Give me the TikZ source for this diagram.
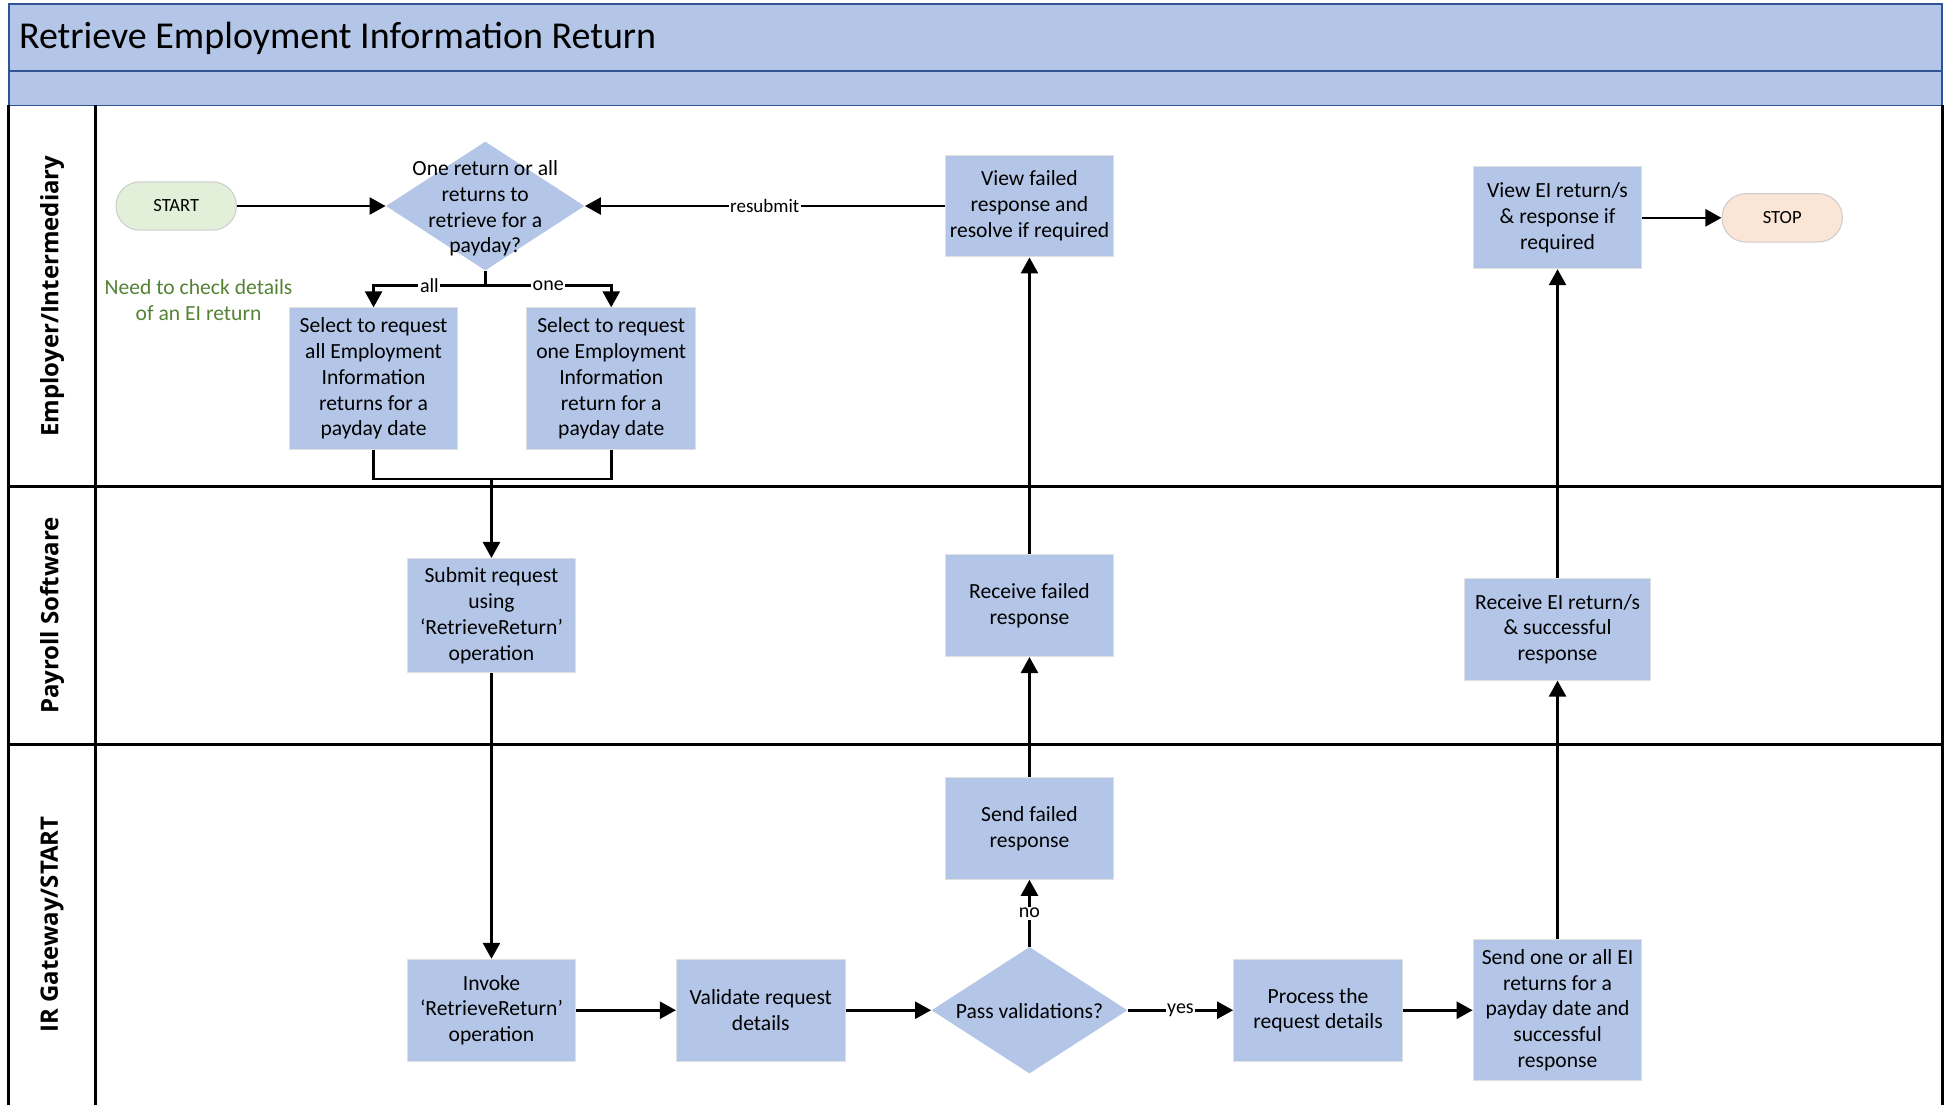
\documentclass[tikz,border=0pt]{standalone}
\usepackage{fontspec}
\setmainfont{Carlito}
\newfontfamily\lanefont{Open Sans}
\usetikzlibrary{shapes.geometric,arrows.meta}
\definecolor{boxblue}{HTML}{B4C6E7}
\definecolor{bandline}{HTML}{2F5597}
\definecolor{startgreen}{HTML}{E2F0D9}
\definecolor{stoporange}{HTML}{FBE5D6}
\definecolor{notegreen}{HTML}{548235}
\begin{document}
\begin{tikzpicture}[x=0.6205pt,y=-0.6205pt,
  proc/.style={rectangle, fill=boxblue, draw=black!12, line width=0.5pt, align=center,
    font=\fontsize{10.8}{12.9}\selectfont, inner sep=1pt, minimum width=84.4pt, minimum height=50.9pt},
  decision/.style={diamond, fill=boxblue, draw=none, inner sep=0pt},
  dtext/.style={align=center, font=\fontsize{10.8}{12.9}\selectfont, inner sep=0pt},
  term/.style={rectangle, rounded corners=12pt, draw=black!20, line width=0.5pt,
    minimum width=60.2pt, minimum height=24.2pt, font=\fontsize{9.3}{11}\selectfont},
  note/.style={align=center, text=notegreen, font=\fontsize{10.8}{12.9}\selectfont},
  lane/.style={rotate=90, font=\lanefont\bfseries\fontsize{12}{14}\selectfont},
  arr/.style={-{Triangle[length=8pt,width=8.5pt]}, line width=1.3pt},
  conn/.style={line width=1.3pt},
  lab/.style={fill=white, inner sep=0.8pt, font=\fontsize{10}{12}\selectfont},
  laneline/.style={line width=1.3pt, black}
]
\useasboundingbox (0,0) rectangle (1568,890);
\clip (0,0) rectangle (1568,890);
% header bands
\draw[fill=boxblue, draw=bandline, line width=0.9pt] (7,3) rectangle (1565,57);
\draw[fill=boxblue, draw=bandline, line width=0.9pt] (7,57) rectangle (1565,85);
\node[anchor=west, font=\fontsize{19}{22}\selectfont, inner sep=0pt] (title) at (15,31) {Retrieve Employment Information Return};
% lanes
\draw[laneline] (7,85) -- (7,900);
\draw[laneline] (1565,85) -- (1565,900);
\draw[laneline] (77,85) -- (77,900);
\draw[laneline] (7,392) -- (1565,392);
\draw[laneline] (7,600) -- (1565,600);
\node[lane] (lane1) at (42,238.5) {Employer/Intermediary};
\node[lane] (lane2) at (42,496) {Payroll Software};
\node[lane] (lane3) at (42,745) {IR Gateway/START};
% nodes
\node[term, fill=startgreen] (start) at (142,166) {START};
\node[decision, minimum width=99.3pt, minimum height=64.5pt] (d1) at (391,166) {};
\node[dtext] (d1t) at (391,168) {One return or all\\returns to\\retrieve for a\\payday?};
\node[note] (note) at (160,241.5) {Need to check details\\of an EI return};
\node[proc, minimum height=70.7pt] (selall) at (301,305) {Select to request\\all Employment\\Information\\returns for a\\payday date};
\node[proc, minimum height=70.7pt] (selone) at (492.5,305) {Select to request\\one Employment\\Information\\return for a\\payday date};
\node[proc, minimum height=57.1pt] (submit) at (396,496) {Submit request\\using\\‘RetrieveReturn’\\operation};
\node[proc] (invoke) at (396,814) {Invoke\\‘RetrieveReturn’\\operation};
\node[proc] (validate) at (613,814) {Validate request\\details};
\node[decision, minimum width=98pt, minimum height=63.3pt] (d2) at (829.5,814) {};
\node[dtext] (d2t) at (829.5,815) {Pass validations?};
\node[proc] (process) at (1062,814) {Process the\\request details};
\node[proc, minimum height=70.7pt] (sendok) at (1255,814) {Send one or all EI\\returns for a\\payday date and\\successful\\response};
\node[proc] (sendfail) at (829.5,667.5) {Send failed\\response};
\node[proc] (recvfail) at (829.5,488) {Receive failed\\response};
\node[proc] (viewfail) at (829.5,166) {View failed\\response and\\resolve if required};
\node[proc, minimum width=93.1pt] (recvok) at (1255,507) {Receive EI return/s\\\& successful\\response};
\node[proc] (viewok) at (1255,175.5) {View EI return/s\\\& response if\\required};
\node[term, fill=stoporange] (stop) at (1436,175.5) {STOP};
% connectors
\draw[arr] (start.east) -- (d1.west);
\draw[arr] (viewfail.west) -- node[lab, font=\fontsize{9.5}{11}\selectfont]{resubmit} (d1.east);
\coordinate (br) at (391,230);
\draw[conn] (d1.south) -- (br);
\draw[arr] (br) -| node[lab, pos=0.25]{all} (selall.north);
\draw[arr] (br) -| node[lab, pos=0.25]{one} (selone.north);
\coordinate (mrg) at (396,386);
\draw[conn] (selall.south) |- (mrg) -| (selone.south);
\draw[arr] (mrg) -- (submit.north);
\draw[arr] (submit.south) -- (invoke.north);
\draw[arr] (invoke.east) -- (validate.west);
\draw[arr] (validate.east) -- (d2.west);
\draw[arr] (d2.east) -- node[lab]{yes} (process.west);
\draw[arr] (process.east) -- (sendok.west);
\draw[arr] (d2.north) -- node[lab]{no} (sendfail.south);
\draw[arr] (sendfail.north) -- (recvfail.south);
\draw[arr] (recvfail.north) -- (viewfail.south);
\draw[arr] (sendok.north) -- (recvok.south);
\draw[arr] (recvok.north) -- (viewok.south);
\draw[arr] (viewok.east) -- (stop.west);
\end{tikzpicture}
\end{document}
